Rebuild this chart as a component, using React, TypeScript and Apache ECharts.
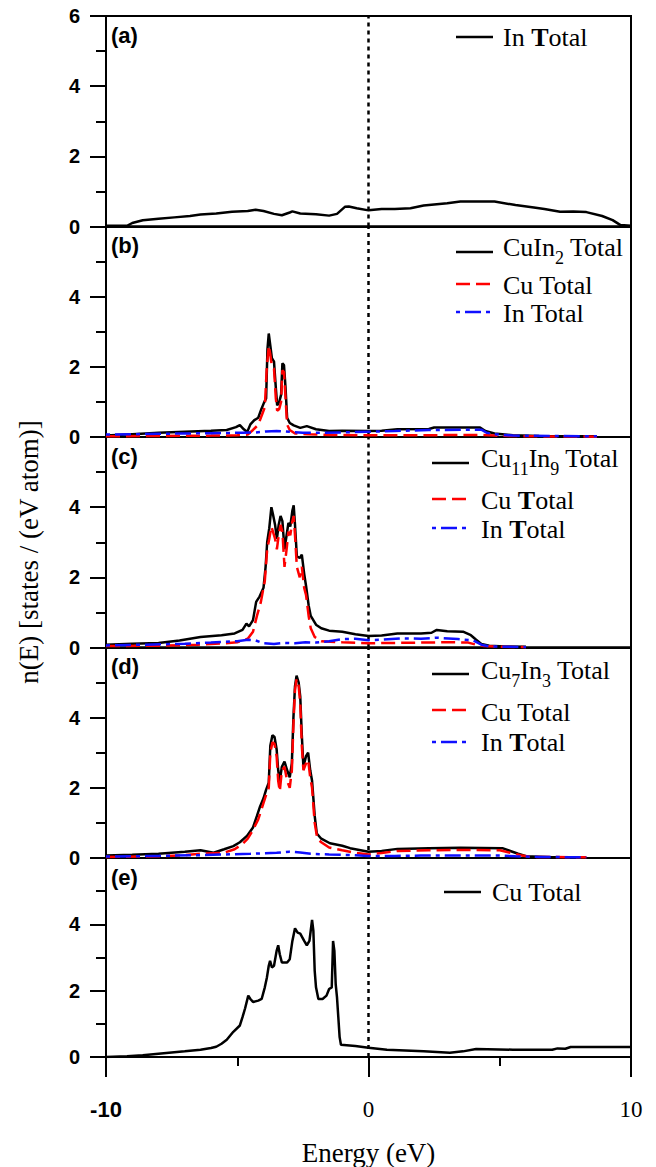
import React, { useEffect, useRef } from 'react';
import * as echarts from 'echarts';

// ---------- DATA (energy in eV, n(E) in states/(eV atom)) ----------
const panelLabels = ['(a)', '(b)', '(c)', '(d)', '(e)'];
const yTicks = [0, 2, 4, 6];
const xTicks = [-10, 0, 10];
const fermiEnergy = 0;

// (a) In
const inA: [number, number][] = [
  [-10, 0.02], [-9.2, 0.02], [-9.0, 0.1], [-8.6, 0.18], [-8.0, 0.22], [-7.4, 0.26], [-6.8, 0.3],
  [-6.4, 0.34], [-5.8, 0.37], [-5.2, 0.42], [-4.6, 0.44], [-4.3, 0.48], [-4.0, 0.44], [-3.6, 0.36],
  [-3.3, 0.32], [-3.0, 0.4], [-2.9, 0.43], [-2.6, 0.37], [-2.0, 0.35], [-1.5, 0.31], [-1.2, 0.36],
  [-0.9, 0.56], [-0.75, 0.57], [-0.45, 0.52], [0, 0.46], [0.5, 0.5], [1.0, 0.5], [1.6, 0.52],
  [2.1, 0.6], [3.0, 0.66], [3.5, 0.71], [4.8, 0.71], [5.6, 0.61], [6.3, 0.54], [6.7, 0.5],
  [7.3, 0.42], [7.8, 0.43], [8.3, 0.41], [8.9, 0.3], [9.3, 0.18], [9.6, 0.04], [10, 0.02],
];

// (b) CuIn2
const cuIn2Total: [number, number][] = [
  [-10, 0.04], [-9, 0.08], [-8, 0.12], [-7, 0.15], [-6, 0.18], [-5.4, 0.2], [-5.05, 0.28], [-4.9, 0.34],
  [-4.75, 0.22], [-4.62, 0.14], [-4.5, 0.36], [-4.35, 0.48], [-4.2, 0.55], [-4.08, 0.8], [-3.98, 0.98],
  [-3.9, 1.1], [-3.85, 2.5], [-3.8, 2.95], [-3.74, 2.6], [-3.68, 2.25], [-3.6, 2.15], [-3.53, 1.4],
  [-3.48, 0.9], [-3.4, 1.0], [-3.33, 1.2], [-3.28, 2.1], [-3.22, 2.05], [-3.16, 1.4], [-3.1, 0.55],
  [-3.0, 0.4], [-2.85, 0.33], [-2.6, 0.26], [-2.35, 0.31], [-2.0, 0.22], [-1.5, 0.17], [-1, 0.18],
  [0, 0.17], [0.5, 0.18], [1.1, 0.22], [2.3, 0.23], [2.5, 0.27], [4.25, 0.27], [4.45, 0.17],
  [4.8, 0.1], [5.5, 0.05], [6.5, 0.03], [8.7, 0.02],
];
const cuB: [number, number][] = [
  [-10, 0.02], [-8, 0.03], [-6, 0.04], [-5, 0.05], [-4.6, 0.07], [-4.4, 0.2], [-4.2, 0.35], [-4.05, 0.65],
  [-3.95, 0.85], [-3.88, 1.9], [-3.8, 2.6], [-3.74, 2.35], [-3.68, 2.0], [-3.6, 1.95], [-3.53, 1.1],
  [-3.48, 0.75], [-3.4, 0.8], [-3.33, 1.0], [-3.28, 1.9], [-3.22, 1.85], [-3.16, 1.1], [-3.1, 0.35],
  [-3.0, 0.2], [-2.8, 0.1], [-2.3, 0.08], [-1.5, 0.06], [0, 0.05], [2, 0.05], [4.3, 0.06], [4.8, 0.04],
  [6, 0.02], [8.7, 0.01],
];
const inB: [number, number][] = [
  [-10, 0.07], [-8, 0.09], [-6, 0.11], [-4.8, 0.12], [-4.3, 0.13], [-3.9, 0.16], [-3.5, 0.17], [-3.0, 0.15],
  [-2.5, 0.12], [-2, 0.12], [-1, 0.13], [0, 0.15], [1, 0.17], [2.3, 0.2], [4.3, 0.21], [4.5, 0.12],
  [4.8, 0.08], [5.5, 0.04], [7, 0.03], [8.7, 0.02],
];

// (c) Cu11In9
const cu11In9Total: [number, number][] = [
  [-10, 0.08], [-9, 0.11], [-8, 0.13], [-7.2, 0.2], [-6.4, 0.3], [-5.6, 0.35], [-5.1, 0.4], [-4.8, 0.5],
  [-4.65, 0.68], [-4.55, 0.6], [-4.4, 0.78], [-4.28, 1.3], [-4.15, 1.45], [-4.0, 1.7], [-3.92, 2.3],
  [-3.86, 3.0], [-3.78, 3.4], [-3.7, 4.0], [-3.64, 3.8], [-3.56, 3.5], [-3.49, 3.1], [-3.42, 3.5],
  [-3.35, 3.75], [-3.28, 3.6], [-3.2, 2.8], [-3.12, 3.2], [-3.05, 3.55], [-2.98, 3.45], [-2.9, 3.9],
  [-2.85, 4.05], [-2.8, 3.5], [-2.73, 2.6], [-2.62, 2.55], [-2.54, 2.65], [-2.45, 2.1], [-2.38, 1.76],
  [-2.28, 1.2], [-2.2, 0.9], [-2.0, 0.65], [-1.8, 0.55], [-1.5, 0.48], [-1, 0.45], [-0.5, 0.38],
  [0, 0.33], [0.5, 0.34], [1.1, 0.4], [2, 0.4], [2.4, 0.42], [2.6, 0.5], [3.0, 0.46], [3.6, 0.45],
  [3.9, 0.35], [4.1, 0.22], [4.3, 0.1], [4.6, 0.05], [5.2, 0.03], [6, 0.02],
];
const cuC: [number, number][] = [
  [-10, 0.04], [-8, 0.05], [-6.5, 0.08], [-5.5, 0.12], [-5, 0.15], [-4.6, 0.25], [-4.4, 0.45], [-4.25, 0.9],
  [-4.1, 1.3], [-3.95, 1.9], [-3.86, 2.8], [-3.78, 3.1], [-3.7, 3.45], [-3.64, 3.3], [-3.56, 3.1],
  [-3.49, 2.8], [-3.42, 3.2], [-3.35, 3.5], [-3.28, 3.3], [-3.2, 2.3], [-3.12, 2.8], [-3.05, 3.3],
  [-2.98, 3.2], [-2.9, 3.6], [-2.85, 3.75], [-2.8, 3.2], [-2.73, 2.3], [-2.62, 2.0], [-2.54, 2.3],
  [-2.45, 1.7], [-2.38, 1.5], [-2.28, 0.9], [-2.2, 0.55], [-2.05, 0.3], [-1.8, 0.18], [-1, 0.15],
  [0, 0.12], [1, 0.13], [2, 0.14], [3, 0.15], [3.8, 0.14], [4.1, 0.08], [4.4, 0.04], [5, 0.02], [6, 0.01],
];
const inC: [number, number][] = [
  [-10, 0.06], [-8.5, 0.08], [-7, 0.11], [-6, 0.14], [-5, 0.18], [-4.6, 0.22], [-4.3, 0.2], [-4.0, 0.12],
  [-3.6, 0.1], [-3.2, 0.13], [-2.8, 0.12], [-2.4, 0.15], [-2.0, 0.14], [-1.5, 0.18], [-1, 0.24],
  [-0.5, 0.25], [0, 0.21], [0.5, 0.22], [1.2, 0.26], [2, 0.25], [2.6, 0.28], [3.4, 0.24], [4, 0.2],
  [4.3, 0.08], [4.6, 0.03], [6, 0.01],
];

// (d) Cu7In3
const cu7In3Total: [number, number][] = [
  [-10, 0.07], [-9, 0.09], [-8, 0.12], [-7, 0.18], [-6.4, 0.22], [-5.9, 0.15], [-5.5, 0.25], [-5.15, 0.34],
  [-4.9, 0.45], [-4.63, 0.63], [-4.4, 0.87], [-4.25, 1.2], [-4.13, 1.47], [-4.0, 1.7], [-3.9, 1.95],
  [-3.8, 2.15], [-3.74, 3.2], [-3.66, 3.5], [-3.58, 3.45], [-3.5, 3.1], [-3.44, 2.5], [-3.38, 2.2],
  [-3.3, 2.6], [-3.2, 2.75], [-3.1, 2.5], [-3.0, 2.3], [-2.92, 2.7], [-2.86, 4.0], [-2.8, 4.9],
  [-2.74, 5.2], [-2.66, 5.0], [-2.6, 4.6], [-2.54, 3.5], [-2.48, 2.6], [-2.38, 2.9], [-2.3, 3.0],
  [-2.22, 2.5], [-2.15, 2.2], [-2.05, 1.2], [-1.97, 0.7], [-1.8, 0.55], [-1.47, 0.42], [-1.0, 0.35],
  [-0.7, 0.28], [0, 0.18], [0.5, 0.2], [1.1, 0.26], [2.3, 0.28], [3.5, 0.29], [5.1, 0.28], [5.4, 0.2],
  [5.7, 0.12], [6.0, 0.05], [7, 0.02], [8.2, 0.02],
];
const cuD: [number, number][] = [
  [-10, 0.03], [-8, 0.05], [-7, 0.08], [-6.4, 0.12], [-5.5, 0.15], [-5.1, 0.25], [-4.8, 0.4], [-4.6, 0.55],
  [-4.4, 0.8], [-4.2, 1.1], [-4.05, 1.45], [-3.9, 1.8], [-3.8, 2.0], [-3.74, 3.0], [-3.66, 3.3],
  [-3.58, 3.25], [-3.5, 2.9], [-3.44, 2.2], [-3.38, 1.9], [-3.3, 2.5], [-3.2, 2.6], [-3.1, 2.2],
  [-3.0, 2.0], [-2.92, 2.5], [-2.86, 3.8], [-2.8, 4.8], [-2.74, 5.1], [-2.66, 4.9], [-2.6, 4.4],
  [-2.54, 3.2], [-2.48, 2.5], [-2.38, 2.7], [-2.3, 2.8], [-2.22, 2.3], [-2.15, 2.0], [-2.05, 1.0],
  [-1.95, 0.55], [-1.8, 0.45], [-1.5, 0.3], [-1, 0.22], [-0.5, 0.15], [0, 0.1], [0.5, 0.14], [1.1, 0.2],
  [2.3, 0.22], [3.5, 0.23], [5, 0.22], [5.4, 0.15], [5.8, 0.08], [6.2, 0.03], [8.3, 0.02],
];
const inD: [number, number][] = [
  [-10, 0.04], [-8, 0.06], [-6.5, 0.08], [-5.5, 0.1], [-4.5, 0.12], [-3.5, 0.15], [-3.0, 0.18], [-2.6, 0.16],
  [-2.2, 0.12], [-1.5, 0.1], [-0.5, 0.08], [0, 0.06], [1, 0.06], [2, 0.07], [3, 0.07], [4, 0.07],
  [5, 0.07], [5.6, 0.05], [6.5, 0.03], [8.3, 0.02],
];

// (e) Cu
const cuE: [number, number][] = [
  [-10, 0.0], [-9.2, 0.02], [-8.6, 0.05], [-7.7, 0.12], [-7, 0.17], [-6.4, 0.22], [-6, 0.27], [-5.8, 0.31],
  [-5.6, 0.4], [-5.4, 0.52], [-5.15, 0.76], [-4.9, 0.95], [-4.8, 1.2], [-4.7, 1.47], [-4.58, 1.85],
  [-4.5, 1.75], [-4.4, 1.66], [-4.2, 1.7], [-4.07, 1.75], [-3.95, 2.1], [-3.87, 2.4], [-3.8, 2.75],
  [-3.75, 2.9], [-3.68, 2.7], [-3.6, 2.75], [-3.5, 3.2], [-3.44, 3.37], [-3.38, 3.1], [-3.3, 2.85],
  [-3.1, 2.85], [-3.0, 2.95], [-2.9, 3.5], [-2.8, 3.88], [-2.7, 3.75], [-2.6, 3.72], [-2.45, 3.5],
  [-2.35, 3.37], [-2.25, 3.5], [-2.15, 4.13], [-2.1, 3.8], [-2.05, 2.6], [-2.0, 2.1], [-1.91, 1.75],
  [-1.75, 1.75], [-1.6, 1.85], [-1.5, 2.05], [-1.4, 2.1], [-1.35, 3.5], [-1.3, 3.2], [-1.25, 2.2],
  [-1.2, 1.8], [-1.1, 0.6], [-1.05, 0.37], [-0.5, 0.33], [0, 0.28], [0.7, 0.22], [2.1, 0.17],
  [3.1, 0.13], [3.6, 0.17], [4.1, 0.24], [5.5, 0.22], [7.0, 0.22], [7.2, 0.26], [7.5, 0.25],
  [7.7, 0.3], [10, 0.3],
];

// legend texts (rich-text markup for subscripts / bold T as in the figure)
const legendA = ['{m|In }{b|T}{m|otal}'];
const legendB = ['{m|CuIn}{s|2}{m| Total}', '{m|Cu Total}', '{m|In Total}'];
const legendC = ['{m|Cu}{s|11}{m|In}{s|9}{m| Total}', '{m|Cu }{b|T}{m|otal}', '{m|In }{b|T}{m|otal}'];
const legendD = ['{m|Cu}{s|7}{m|In}{s|3}{m| Total}', '{m|Cu Total}', '{m|In }{b|T}{m|otal}'];
const legendE = ['{m|Cu Total}'];

// ---------- STYLES ----------
const SERIF = '"Liberation Serif", "Times New Roman", serif';
const SANS = '"Liberation Sans", Arial, sans-serif';
const BLACK = { color: '#000000', type: 'solid' as any, width: 2.5 };
const RED = { color: '#ff0000', type: [14, 6] as any, width: 2.5 };
const BLUE = { color: '#1010ff', type: [4, 5, 16, 5] as any, width: 2.5 };

const LEFT = 106;
const RIGHT = 631;
const TOP0 = 16;
const PANEL_H = 210.5;

const panels = [
  { series: [{ name: 'In Total', data: inA, st: BLACK }], legend: legendA, lx: 456, tx: 503, ly: [37], ty: [37] },
  {
    series: [
      { name: 'CuIn2 Total', data: cuIn2Total, st: BLACK },
      { name: 'Cu Total', data: cuB, st: RED },
      { name: 'In Total', data: inB, st: BLUE },
    ],
    legend: legendB, lx: 456, tx: 503, ly: [252, 284, 312], ty: [247, 285, 313],
  },
  {
    series: [
      { name: 'Cu11In9 Total', data: cu11In9Total, st: BLACK },
      { name: 'Cu Total', data: cuC, st: RED },
      { name: 'In Total', data: inC, st: BLUE },
    ],
    legend: legendC, lx: 432, tx: 481, ly: [463, 499, 528], ty: [458, 500, 529],
  },
  {
    series: [
      { name: 'Cu7In3 Total', data: cu7In3Total, st: BLACK },
      { name: 'Cu Total', data: cuD, st: RED },
      { name: 'In Total', data: inD, st: BLUE },
    ],
    legend: legendD, lx: 432, tx: 481, ly: [674, 710, 742], ty: [670, 712, 742],
  },
  { series: [{ name: 'Cu Total', data: cuE, st: BLACK }], legend: legendE, lx: 444, tx: 492, ly: [892], ty: [892] },
];

function dashOf(t: any) {
  return Array.isArray(t) ? t : null;
}

export default function App() {
  const ref = useRef<HTMLDivElement>(null);
  useEffect(() => {
    if (!ref.current) return;
    const chart = echarts.init(ref.current, undefined, { renderer: 'svg' });
    const n = panels.length;
    const grids: any[] = [];
    const xAxes: any[] = [];
    const yAxes: any[] = [];
    const series: any[] = [];
    const graphics: any[] = [];

    panels.forEach((p, i) => {
      const top = TOP0 + i * PANEL_H;
      const last = i === n - 1;
      grids.push({
        left: LEFT, width: RIGHT - LEFT, top, height: PANEL_H,
        show: true, borderColor: '#000', borderWidth: 2, backgroundColor: 'transparent',
      });
      xAxes.push({
        type: 'value', gridIndex: i, min: -10, max: 10, interval: 10,
        axisLine: { show: true, onZero: false, lineStyle: { color: '#000', width: 2 } },
        axisTick: { show: last, length: 20, lineStyle: { color: '#000', width: 2 } },
        minorTick: { show: last, splitNumber: 2, length: 9, lineStyle: { color: '#000', width: 2 } },
        splitLine: { show: false },
        axisLabel: {
          show: last, margin: 41,
          formatter: (v: number) => (xTicks.indexOf(v) < 0 ? '' : v < 0 ? `{s|${v}}` : `{r|${v}}`),
          rich: {
            s: { fontFamily: SANS, fontWeight: 'bold', fontSize: 22, color: '#000' },
            r: { fontFamily: SERIF, fontSize: 23, color: '#000' },
          },
        },
        name: last ? 'Energy (eV)' : '',
        nameLocation: 'middle', nameGap: 82,
        nameTextStyle: { fontFamily: SERIF, fontSize: 27, color: '#000' },
      });
      yAxes.push({
        type: 'value', gridIndex: i, min: 0, max: 6, interval: 2,
        axisLine: { show: true, onZero: false, lineStyle: { color: '#000', width: 2 } },
        axisTick: { show: true, length: 16, lineStyle: { color: '#000', width: 2 } },
        minorTick: { show: true, splitNumber: 2, length: 10, lineStyle: { color: '#000', width: 2 } },
        splitLine: { show: false },
        axisLabel: {
          margin: 26, fontFamily: SANS, fontWeight: 'bold', fontSize: 20, color: '#000',
          formatter: (v: number) => (yTicks.indexOf(v) < 0 || (i > 0 && v === 6) ? '' : String(v)),
        },
      });
      // Fermi level (dotted vertical line at E = 0)
      series.push({
        type: 'line', name: 'Fermi', xAxisIndex: i, yAxisIndex: i,
        data: [[fermiEnergy, 0], [fermiEnergy, 6]],
        showSymbol: false, symbol: 'none', z: 2, silent: true,
        lineStyle: { color: '#000', width: 2.5, type: [4, 4] },
      });
      p.series.forEach((s, k) => {
        series.push({
          type: 'line', name: s.name, xAxisIndex: i, yAxisIndex: i, data: s.data,
          showSymbol: false, symbol: 'none', z: 3 + k,
          lineStyle: { color: s.st.color, width: s.st.width, type: s.st.type },
          itemStyle: { color: s.st.color },
        });
      });

      // panel letter
      graphics.push({
        type: 'text', left: LEFT + 5, top: top + 8,
        style: { text: panelLabels[i], fontFamily: SANS, fontWeight: 'bold', fontSize: 22, fill: '#000' },
      });
      // legend
      p.legend.forEach((txt, k) => {
        const st = p.series[k].st;
        graphics.push({
          type: 'line',
          shape: { x1: p.lx, y1: p.ly[k], x2: p.lx + 37, y2: p.ly[k] },
          style: { stroke: st.color, lineWidth: 2.5, lineDash: dashOf(st.type) },
        });
        graphics.push({
          type: 'text', x: p.tx, y: p.ty[k],
          style: {
            text: txt, fill: '#000', align: 'left', verticalAlign: 'middle',
            fontFamily: SERIF, fontSize: 26,
            rich: {
              m: { fontFamily: SERIF, fontSize: 26, lineHeight: 40, fill: '#000' },
              b: { fontFamily: SERIF, fontSize: 26, fontWeight: 'bold', lineHeight: 40, fill: '#000' },
              s: { fontFamily: SERIF, fontSize: 18, lineHeight: 18, verticalAlign: 'bottom', fill: '#000' },
            },
          },
        });
      });
    });

    // y-axis title
    graphics.push({
      type: 'text', x: 29, y: 552, rotation: Math.PI / 2,
      style: {
        text: 'n(E) [states / (eV atom)]', fontFamily: SERIF, fontSize: 27, fill: '#000',
        align: 'center', verticalAlign: 'middle',
      },
    });

    chart.setOption({
      animation: false,
      backgroundColor: '#ffffff',
      grid: grids,
      xAxis: xAxes,
      yAxis: yAxes,
      series,
      graphic: graphics,
    });
    return () => chart.dispose();
  }, []);

  return (
    <div
      ref={ref}
      style={{ position: 'absolute', left: 0, top: 0, width: 656, height: 1167, background: '#fff' }}
    />
  );
}
